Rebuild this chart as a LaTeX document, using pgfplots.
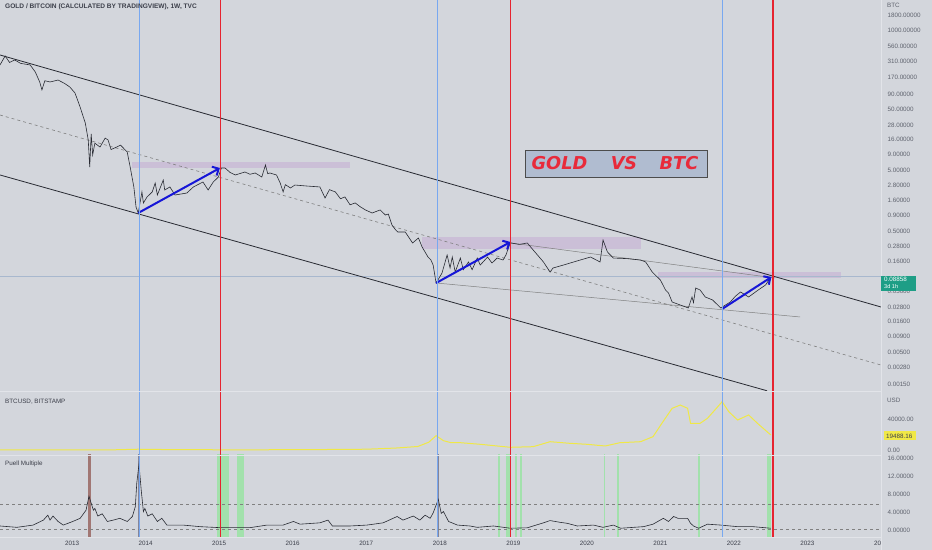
\documentclass[border=0pt]{standalone}
\usepackage{pgfplots}
\pgfplotsset{compat=1.18}
\usepackage{fontspec}
\setmainfont{Liberation Sans}
\newfontfamily\bannerfont[ItalicFont={* Oblique},BoldItalicFont={* Bold Oblique}]{DejaVu Sans}
\usetikzlibrary{arrows.meta}

\definecolor{bg}{RGB}{211,214,220}
\definecolor{txt}{RGB}{60,63,74}
\definecolor{scalecol}{RGB}{95,99,110}
\definecolor{sep}{RGB}{226,228,233}
\definecolor{vblue}{RGB}{120,168,240}
\definecolor{vred}{RGB}{230,36,48}
\definecolor{arrowblue}{RGB}{22,22,215}
\definecolor{boxpurple}{RGB}{198,176,212}
\definecolor{btcyellow}{RGB}{240,232,70}
\definecolor{puellgreen}{RGB}{150,228,160}
\definecolor{puellbrown}{RGB}{140,80,72}
\definecolor{puelldark}{RGB}{100,100,125}
\definecolor{lastgreen}{RGB}{30,158,134}
\definecolor{lastline}{RGB}{168,184,206}
\definecolor{bannerfill}{RGB}{176,188,208}
\definecolor{bannerred}{RGB}{232,42,58}
\definecolor{pricecol}{RGB}{40,42,50}

\newcommand\scalefont{\fontsize{6.3}{7}\selectfont}

\pgfplotsset{
  panel/.style={
    scale only axis, width=881bp,
    xmin=2012.02, xmax=2024.0,
    axis line style={draw=none},
    tick style={draw=none},
    xtick=\empty,
    yticklabel pos=right,
    yticklabel style={font=\scalefont, text=scalecol, anchor=west, xshift=3bp},
    scaled y ticks=false,
    clip=true,
  },
}

\begin{document}
\begin{tikzpicture}[x=1bp,y=1bp]
\fill[bg] (0,0) rectangle (932,550);

% main panel: gold / bitcoin
\begin{axis}[panel, at={(0bp,159bp)}, anchor=south west, height=391bp,
  ymode=log, ymin=0.00115, ymax=3216,
  ytick={0.0015,0.0028,0.005,0.009,0.016,0.028,0.05,0.16,0.28,0.5,0.9,1.6,2.8,5,9,16,28,50,90,170,310,560,1000,1800},
  yticklabels={0.00150,0.00280,0.00500,0.00900,0.01600,0.02800,0.05000,0.16000,0.28000,0.50000,0.90000,1.60000,2.80000,5.00000,9.00000,16.00000,28.00000,50.00000,90.00000,170.00000,310.00000,560.00000,1000.00000,1800.00000},
]
% resistance zones
\addplot[fill=boxpurple, draw=none, fill opacity=0.6] coordinates {(2013.82,5.46) (2013.82,6.86) (2016.78,6.86) (2016.78,5.46)} -- cycle;
\addplot[fill=boxpurple, draw=none, fill opacity=0.6] coordinates {(2017.76,0.252) (2017.76,0.398) (2020.74,0.398) (2020.74,0.252)} -- cycle;
\addplot[fill=boxpurple, draw=none, fill opacity=0.6] coordinates {(2020.97,0.0839) (2020.97,0.105) (2023.46,0.105) (2023.46,0.0839)} -- cycle;
% last price line
\addplot[lastline, line width=0.4bp] coordinates {(2012.02,0.08858) (2024.0,0.08858)};
% channel
\addplot[pricecol, line width=0.8bp] coordinates {(2012.02,398.6) (2024.0,0.0279)};
\addplot[pricecol, line width=0.8bp] coordinates {(2012.02,4.19) (2022.45,0.00116)};
\addplot[gray, line width=0.6bp, dash pattern=on 3bp off 3bp] coordinates {(2012.02,40.8) (2024.0,0.00308)};
% thin trend lines
\addplot[gray, line width=0.5bp] coordinates {(2017.95,0.0694) (2022.90,0.0191)};
\addplot[gray, line width=0.5bp] coordinates {(2018.97,0.317) (2022.56,0.0839)};
% price
\addplot[pricecol, line width=0.6bp] coordinates {
(2012.02,273) (2012.09,384) (2012.15,300) (2012.22,330) (2012.30,290) (2012.43,273)
(2012.50,209) (2012.56,143) (2012.59,106) (2012.63,150) (2012.70,143) (2012.81,154)
(2012.90,135) (2012.97,118) (2013.04,94) (2013.11,55) (2013.18,30) (2013.22,15.8)
(2013.24,5.67) (2013.26,20) (2013.28,9) (2013.31,14) (2013.38,12.1) (2013.45,17)
(2013.49,15.8) (2013.53,11) (2013.58,11.7) (2013.66,13) (2013.75,10.0) (2013.79,5.67)
(2013.84,2.66) (2013.87,1.24) (2013.90,0.99) (2013.95,2.20) (2013.97,1.45) (2014.02,1.82)
(2014.09,2.20) (2014.13,3.09) (2014.16,1.96) (2014.24,3.46) (2014.26,2.37) (2014.33,2.66)
(2014.40,1.96) (2014.56,2.11) (2014.65,2.66) (2014.78,3.21) (2014.85,2.37) (2014.92,3.21)
(2014.99,3.88) (2015.03,5.46) (2015.08,5.46) (2015.15,4.6) (2015.22,4.19) (2015.35,4.69)
(2015.42,4.3) (2015.49,4.52) (2015.58,3.88) (2015.63,6.12) (2015.66,4.4) (2015.69,4.52)
(2015.78,4.19) (2015.83,3.09) (2015.87,2.20) (2015.90,2.9) (2015.97,2.56) (2016.03,2.86)
(2016.20,2.75) (2016.37,2.66) (2016.44,1.75) (2016.50,2.4) (2016.58,2.20) (2016.65,1.7)
(2016.71,1.82) (2016.78,1.35) (2016.85,1.45) (2016.92,1.25) (2016.99,1.11) (2017.08,0.99)
(2017.19,1.11) (2017.26,0.917) (2017.30,0.95) (2017.35,0.627) (2017.40,0.52) (2017.43,0.481)
(2017.53,0.481) (2017.60,0.36) (2017.63,0.317) (2017.71,0.383) (2017.76,0.272) (2017.84,0.186)
(2017.88,0.166) (2017.91,0.137) (2017.95,0.0694) (2018.03,0.101) (2018.10,0.201) (2018.14,0.1226)
(2018.17,0.186) (2018.21,0.105) (2018.28,0.179) (2018.32,0.115) (2018.39,0.154) (2018.44,0.115)
(2018.51,0.179) (2018.55,0.137) (2018.65,0.186) (2018.71,0.148) (2018.78,0.179) (2018.86,0.166)
(2018.90,0.201) (2018.95,0.30) (2018.97,0.317) (2019.08,0.30) (2019.19,0.317) (2019.27,0.243)
(2019.41,0.154) (2019.50,0.105) (2019.54,0.1226) (2019.68,0.137) (2019.91,0.166) (2020.05,0.186)
(2020.18,0.154) (2020.22,0.355) (2020.28,0.225) (2020.36,0.179) (2020.55,0.175) (2020.73,0.166)
(2020.80,0.154) (2020.89,0.105) (2021.00,0.0777) (2021.07,0.0532) (2021.11,0.0475) (2021.16,0.0337)
(2021.27,0.0301) (2021.38,0.0269) (2021.43,0.0408) (2021.45,0.0330) (2021.48,0.0574) (2021.54,0.0532)
(2021.61,0.0408) (2021.71,0.0364) (2021.82,0.0269) (2021.95,0.0337) (2022.02,0.0420) (2022.09,0.0493)
(2022.20,0.0408) (2022.33,0.0532) (2022.43,0.0643) (2022.50,0.0858)
};
% arrows
\addplot[arrowblue, line width=2bp, -{Straight Barb[length=5bp,width=10bp]}] coordinates {(2013.90,0.99) (2015.01,5.46)};
\addplot[arrowblue, line width=2bp, -{Straight Barb[length=5bp,width=10bp]}] coordinates {(2017.95,0.0694) (2018.96,0.329)};
\addplot[arrowblue, line width=2bp, -{Straight Barb[length=5bp,width=10bp]}] coordinates {(2021.84,0.0259) (2022.51,0.0871)};
\end{axis}

% BTCUSD panel
\begin{axis}[panel, at={(0bp,95bp)}, anchor=south west, height=64bp,
  ymin=-6452, ymax=76129, ytick={0,40000}, yticklabels={0.00,40000.00}]
\addplot[btcyellow, line width=1bp] coordinates {
(2012.02,6) (2012.5,8) (2013.0,14) (2013.3,120) (2013.5,90) (2013.9,1000) (2014.1,650)
(2014.5,600) (2015.0,250) (2015.5,250) (2016.0,430) (2016.5,650) (2017.0,1000) (2017.4,2500)
(2017.7,4500) (2017.85,10000) (2017.95,18500) (2018.05,12000) (2018.15,9500) (2018.28,9420)
(2018.55,7350) (2018.96,3480) (2019.27,4260) (2019.50,10700) (2019.77,8600) (2020.00,7350)
(2020.25,5160) (2020.45,9420) (2020.73,10700) (2020.90,17200) (2021.02,34400) (2021.16,53800)
(2021.27,58000) (2021.37,53800) (2021.41,34400) (2021.54,34400) (2021.64,40900) (2021.72,49400)
(2021.84,62300) (2021.93,49400) (2022.05,38700) (2022.20,45200) (2022.32,34400) (2022.50,19488)
};
\end{axis}

% Puell Multiple panel
\begin{axis}[panel, at={(0bp,13bp)}, anchor=south west, height=82bp,
  ymin=-1.44, ymax=16.73,
  ytick={0,4,8,12,16}, yticklabels={0.00000,4.00000,8.00000,12.00000,16.00000},
  xtick={2013,2014,2015,2016,2017,2018,2019,2020,2021,2022,2023,2024},
  xticklabels={2013,2014,2015,2016,2017,2018,2019,2020,2021,2022,2023,2024},
  xticklabel style={font=\scalefont, text=txt, yshift=-1bp},
]
\addplot[fill=puellbrown, draw=none, fill opacity=0.7] coordinates {(2013.22,-2) (2013.22,20) (2013.26,20) (2013.26,-2)} -- cycle;
\addplot[fill=puelldark, draw=none, fill opacity=0.7] coordinates {(2013.89,-2) (2013.89,20) (2013.93,20) (2013.93,-2)} -- cycle;
\addplot[fill=puelldark, draw=none, fill opacity=0.7] coordinates {(2017.96,-2) (2017.96,20) (2017.995,20) (2017.995,-2)} -- cycle;
\addplot[fill=puellgreen, draw=none, fill opacity=0.8] coordinates {(2014.97,-2) (2014.97,20) (2015.14,20) (2015.14,-2)} -- cycle;
\addplot[fill=puellgreen, draw=none, fill opacity=0.8] coordinates {(2015.24,-2) (2015.24,20) (2015.34,20) (2015.34,-2)} -- cycle;
\addplot[fill=puellgreen, draw=none, fill opacity=0.8] coordinates {(2018.79,-2) (2018.79,20) (2018.82,20) (2018.82,-2)} -- cycle;
\addplot[fill=puellgreen, draw=none, fill opacity=0.8] coordinates {(2018.90,-2) (2018.90,20) (2018.97,20) (2018.97,-2)} -- cycle;
\addplot[fill=puellgreen, draw=none, fill opacity=0.8] coordinates {(2019.02,-2) (2019.02,20) (2019.05,20) (2019.05,-2)} -- cycle;
\addplot[fill=puellgreen, draw=none, fill opacity=0.8] coordinates {(2019.09,-2) (2019.09,20) (2019.12,20) (2019.12,-2)} -- cycle;
\addplot[fill=puellgreen, draw=none, fill opacity=0.8] coordinates {(2020.23,-2) (2020.23,20) (2020.25,20) (2020.25,-2)} -- cycle;
\addplot[fill=puellgreen, draw=none, fill opacity=0.8] coordinates {(2020.41,-2) (2020.41,20) (2020.44,20) (2020.44,-2)} -- cycle;
\addplot[fill=puellgreen, draw=none, fill opacity=0.8] coordinates {(2021.51,-2) (2021.51,20) (2021.54,20) (2021.54,-2)} -- cycle;
\addplot[fill=puellgreen, draw=none, fill opacity=0.8] coordinates {(2022.455,-2) (2022.455,20) (2022.50,20) (2022.50,-2)} -- cycle;
\addplot[gray, line width=0.5bp, dash pattern=on 3bp off 3bp] coordinates {(2012.02,5.8) (2024.0,5.8)};
\addplot[gray, line width=0.5bp, dash pattern=on 3bp off 3bp] coordinates {(2012.02,0.3) (2024.0,0.3)};
\addplot[pricecol, line width=0.6bp] coordinates {
(2012.02,1.0) (2012.25,0.7) (2012.47,1.2) (2012.61,2.3) (2012.67,3.4) (2012.70,2.3) (2012.74,3.2)
(2012.81,2.0) (2012.88,1.2) (2013.01,2.0) (2013.11,2.7) (2013.19,4.5) (2013.23,7.6) (2013.29,4.5)
(2013.31,4.9) (2013.35,3.2) (2013.41,3.7) (2013.48,2.0) (2013.56,2.3) (2013.65,2.7) (2013.75,2.0)
(2013.82,3.1) (2013.86,5.3) (2013.88,10.5) (2013.91,14.7) (2013.94,9.0) (2013.97,4.2) (2013.99,4.9)
(2014.03,3.2) (2014.09,3.7) (2014.16,2.0) (2014.22,2.7) (2014.29,1.2) (2014.51,1.2) (2014.74,0.85)
(2015.01,0.63) (2015.42,0.63) (2015.65,1.2) (2015.87,1.2) (2016.01,2.0) (2016.10,1.4) (2016.37,1.7)
(2016.48,2.3) (2016.54,1.0) (2016.78,1.0) (2017.01,1.2) (2017.23,1.7) (2017.42,3.1) (2017.50,2.3)
(2017.64,3.2) (2017.73,2.3) (2017.80,3.4) (2017.87,2.7) (2017.91,3.9) (2017.98,6.9) (2018.02,3.8)
(2018.05,4.2) (2018.12,2.0) (2018.24,1.2) (2018.41,1.0) (2018.51,0.7) (2018.73,1.0) (2018.96,0.5)
(2019.19,0.6) (2019.39,1.6) (2019.50,2.2) (2019.64,1.8) (2019.73,1.6) (2019.87,1.0) (2020.09,1.2)
(2020.22,0.7) (2020.36,1.2) (2020.46,0.5) (2020.77,0.85) (2020.90,1.4) (2021.04,2.7) (2021.11,2.0)
(2021.18,3.1) (2021.24,2.7) (2021.37,2.7) (2021.41,1.6) (2021.45,1.0) (2021.52,0.5) (2021.64,1.4)
(2021.82,1.2) (2022.05,0.85) (2022.26,0.85) (2022.50,0.5)
};
\end{axis}

% vertical cycle markers across all panels
\begin{axis}[panel, at={(0bp,13bp)}, anchor=south west, height=537bp,
  ymin=0, ymax=1, ytick=\empty]
\addplot[color=vblue, line width=0.9bp] coordinates {(2013.91,0) (2013.91,1)};
\addplot[color=vblue, line width=0.9bp] coordinates {(2017.97,0) (2017.97,1)};
\addplot[color=vblue, line width=0.9bp] coordinates {(2021.84,0) (2021.84,1)};
\addplot[color=vred, line width=1.2bp] coordinates {(2015.02,0) (2015.02,1)};
\addplot[color=vred, line width=1.2bp] coordinates {(2018.96,0) (2018.96,1)};
\addplot[color=vred, line width=1.2bp] coordinates {(2022.53,0) (2022.53,1)};
\end{axis}

% panel separators
\draw[sep, line width=0.8bp] (0,159) -- (881,159);
\draw[sep, line width=0.8bp] (0,95) -- (881,95);
\draw[sep, line width=0.8bp] (0,13) -- (881,13);
\draw[sep, line width=0.8bp] (881.5,0) -- (881.5,550);
\fill[bg] (882,0) rectangle (932,12.5);

% titles
\node[anchor=west, inner sep=0, font=\fontsize{6.6}{7}\selectfont\bfseries, text=txt] at (5,543) {GOLD / BITCOIN (CALCULATED BY TRADINGVIEW), 1W, TVC};
\node[anchor=west, inner sep=0, font=\scalefont, text=txt] at (5,148) {BTCUSD, BITSTAMP};
\node[anchor=west, inner sep=0, font=\scalefont, text=txt] at (5,86) {Puell Multiple};
\node[anchor=west, inner sep=0, font=\scalefont, text=scalecol] at (887,545) {BTC};
\node[anchor=west, inner sep=0, font=\scalefont, text=scalecol] at (887,149.3) {USD};

% last value labels
\fill[lastgreen] (881,274) rectangle (916,259);
\node[anchor=west, inner sep=0, font=\scalefont, text=white] at (884,270.5) {0.08858};
\node[anchor=west, inner sep=0, font=\fontsize{5.6}{6}\selectfont, text=white] at (884,263.8) {3d 1h};
\fill[btcyellow] (884,118.5) rectangle (916,109.5);
\node[anchor=west, inner sep=0, font=\scalefont, text=txt] at (886,114) {19488.16};

% banner
\draw[fill=bannerfill, draw=gray!60!black, line width=0.8bp] (525,400) rectangle (707,373);
\node[font=\bannerfont\bfseries\itshape\fontsize{17.8}{18}\selectfont, text=bannerred, inner sep=0] at (559.5,386.5) {GOLD};
\node[font=\bannerfont\bfseries\itshape\fontsize{17.8}{18}\selectfont, text=bannerred, inner sep=0] at (624,386.5) {VS};
\node[font=\bannerfont\bfseries\itshape\fontsize{17.8}{18}\selectfont, text=bannerred, inner sep=0] at (679,386.5) {BTC};

\pgfresetboundingbox
\useasboundingbox (0,0) rectangle (932,550);
\end{tikzpicture}
\end{document}
